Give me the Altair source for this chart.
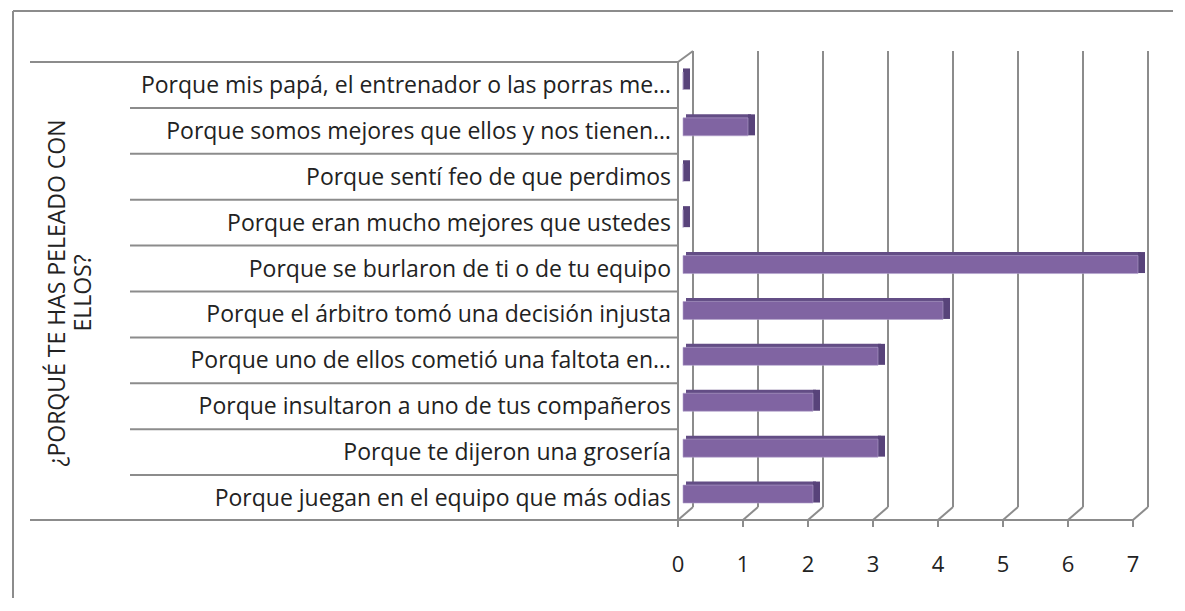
import altair as alt
import pandas as pd

categories = [
    "Porque mis papá, el entrenador o las porras me…",
    "Porque somos mejores que ellos y nos tienen…",
    "Porque sentí feo de que perdimos",
    "Porque eran mucho mejores que ustedes",
    "Porque se burlaron de ti o de tu equipo",
    "Porque el árbitro tomó una decisión injusta",
    "Porque uno de ellos cometió una faltota en…",
    "Porque insultaron a uno de tus compañeros",
    "Porque te dijeron una grosería",
    "Porque juegan en el equipo que más odias",
]
values = [0, 1, 0, 0, 7, 4, 3, 2, 3, 2]
ticks = [0, 1, 2, 3, 4, 5, 6, 7]
tick_labels = ["0", "1", "2", "3", "4", "5", "6", "7"]
title_lines = ["¿PORQUÉ TE HAS PELEADO CON", "ELLOS?"]

bars = pd.DataFrame({"cat": categories, "value": values, "zero": [0] * len(values)})
tk = pd.DataFrame({"tick": ticks, "label": tick_labels})

FONT = "Open Sans"
GRID = "#8c8c8c"
TEXT = "#222222"

xs = alt.Scale(domain=[0, 7], range=[670, 1125], nice=False, zero=False)
ys = alt.Scale(domain=categories, range=[54, 513], paddingInner=0, paddingOuter=0)
X = lambda f: alt.X(f, scale=xs, axis=None)
Y = alt.Y("cat:N", scale=ys, sort=categories, axis=None)
band = (513 - 54) / len(categories)

base_tk = alt.Chart(tk)
base_b = alt.Chart(bars)
dummy = alt.Chart(pd.DataFrame({"d": [0]}))

# outer border (top and left)
border_top = dummy.mark_rule(color=GRID, strokeWidth=2).encode(
    x=alt.value(5), x2=alt.value(1165), y=alt.value(3))
border_left = dummy.mark_rule(color=GRID, strokeWidth=2).encode(
    x=alt.value(5), y=alt.value(3), y2=alt.value(590))

# table lines
table_top = dummy.mark_rule(color=GRID, strokeWidth=2).encode(
    x=alt.value(22), x2=alt.value(670), y=alt.value(54))
table_bottom = dummy.mark_rule(color=GRID, strokeWidth=2).encode(
    x=alt.value(22), x2=alt.value(1125), y=alt.value(512))
row_sep = base_b.mark_rule(color=GRID, strokeWidth=2, yOffset=-band / 2).encode(
    y=Y, x=alt.value(122), x2=alt.value(670))

# front axis (value 0)
front_axis = dummy.mark_rule(color=GRID, strokeWidth=2).encode(
    x=alt.X("d:Q", scale=xs, axis=None), y=alt.value(54), y2=alt.value(519))
wall_top = dummy.mark_rule(color=GRID, strokeWidth=2, x2Offset=15).encode(
    x=alt.X("d:Q", scale=xs, axis=None), x2="d:Q", y=alt.value(54), y2=alt.value(43))

# back gridlines
grid_back = base_tk.mark_rule(color=GRID, strokeWidth=2, xOffset=15).encode(
    x=X("tick:Q"), y=alt.value(43), y2=alt.value(499))
grid_diag = base_tk.mark_rule(color=GRID, strokeWidth=2, x2Offset=15).encode(
    x=X("tick:Q"), x2="tick:Q", y=alt.value(512), y2=alt.value(499))
tick_marks = base_tk.mark_rule(color=GRID, strokeWidth=2).encode(
    x=X("tick:Q"), y=alt.value(512), y2=alt.value(519))
tick_text = base_tk.mark_text(font=FONT, fontSize=22, color=TEXT, baseline="middle").encode(
    x=X("tick:Q"), y=alt.value(557), text="label:N")

# 3D-like bars
bar_top = base_b.mark_bar(size=5, yOffset=-14, xOffset=8, x2Offset=8,
                          color="#634D85").encode(
    x=X("value:Q"), x2="zero:Q", y=Y)
bar_side = base_b.mark_bar(size=21, yOffset=-6, xOffset=5, x2Offset=12,
                           color="#58437A").encode(
    x=X("value:Q"), x2="value:Q", y=Y)
bar_front = base_b.mark_bar(size=18, yOffset=-4, xOffset=5, x2Offset=5,
                            color="#8064A2", stroke="#B3A2CC", strokeWidth=0.6).encode(
    x=X("value:Q"), x2="zero:Q", y=Y)

cat_text = base_b.mark_text(font=FONT, fontSize=23, color=TEXT, align="right",
                            baseline="middle", dy=1).encode(
    x=alt.value(663), y=Y, text="cat:N")

title = dummy.mark_text(font=FONT, fontSize=23, color=TEXT, angle=270, align="center",
                        baseline="middle", lineHeight=26).encode(
    x=alt.value(50), y=alt.value(285), text=alt.value(title_lines))

chart = alt.layer(
    border_top, border_left, table_top, table_bottom, row_sep,
    grid_back, grid_diag, tick_marks, wall_top, front_axis,
    bar_top, bar_side, bar_front,
    cat_text, tick_text, title,
).properties(
    width=1165, height=590, padding=0,
    autosize=alt.AutoSizeParams(type="none"),
).configure_view(stroke=None)

chart.save("out.html", embed_options={"renderer": "svg", "actions": False})
